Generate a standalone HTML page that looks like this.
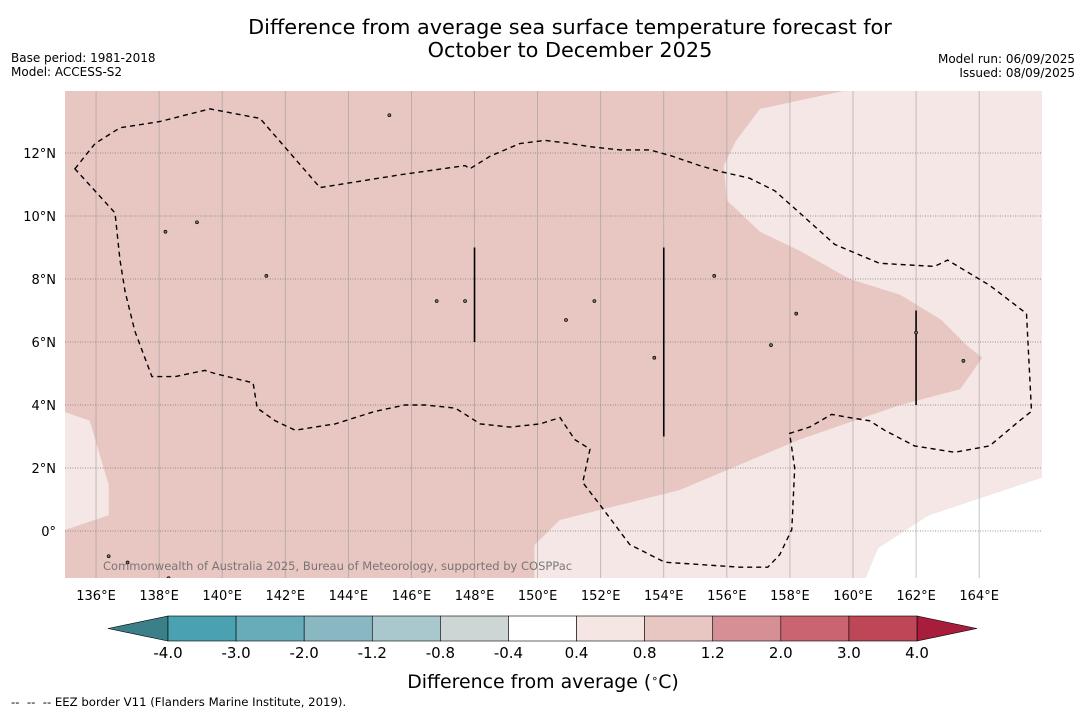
<!DOCTYPE html>
<html><head><meta charset="utf-8">
<style>
body{margin:0;background:#fff;width:1085px;height:713px;overflow:hidden;font-family:"Liberation Sans","DejaVu Sans",sans-serif;}
svg text{font-family:"DejaVu Sans","Liberation Sans",sans-serif;}
</style></head>
<body>
<svg id="chart" width="1085" height="713" viewBox="0 0 1085 713">
<text x="570" y="34" font-size="20.8" text-anchor="middle">Difference from average sea surface temperature forecast for</text>
<text x="570" y="57" font-size="20.8" text-anchor="middle">October to December 2025</text>
<text x="11" y="62" font-size="12">Base period: 1981-2018</text>
<text x="11" y="76" font-size="12">Model: ACCESS-S2</text>
<text x="1075" y="63" font-size="12" text-anchor="end">Model run: 06/09/2025</text>
<text x="1075" y="77" font-size="12" text-anchor="end">Issued: 08/09/2025</text>
<defs><clipPath id="mapclip"><rect x="65" y="91" width="977" height="487"/></clipPath></defs>
<g id="map" clip-path="url(#mapclip)"></g>
<g id="axes"></g>
<g id="cbar"></g>
<text x="543" y="688" font-size="18.9" text-anchor="middle">Difference from average (<tspan baseline-shift="super" font-size="11">∘</tspan>C)</text>
<text x="11" y="706" font-size="11.7" xml:space="preserve">--  --  -- EEZ border V11 (Flanders Marine Institute, 2019).</text>
</svg>
<script>
const lonTicks=[136,138,140,142,144,146,148,150,152,154,156,158,160,162,164];
const latTicks=[0,2,4,6,8,10,12];
const cbarLevels=["-4.0","-3.0","-2.0","-1.2","-0.8","-0.4","0.4","0.8","1.2","2.0","3.0","4.0"];
const cbarColors=["#4aa1b0","#68abb9","#89b8c3","#a9c8cd","#ced5d5","#ffffff","#f5e6e4","#e8c6c2","#d68f95","#c96470","#bd4657"];
const lightLon=[159.84,157.05,156.3,155.9,156.0,157.05,158.3,159.9,161.5,162.8,163.6,164.1,163.4,161.5,158.3,154.5,150.7,149.9,149.9,160.4,160.8,162.4,166,166];
const lightLat=[14,13.4,12.4,11.6,10.5,9.5,8.9,8.0,7.5,6.7,5.9,5.5,4.5,4.0,2.9,1.3,0.35,-0.45,-1.5,-1.5,-0.54,0.5,1.7,14];
const whiteLon=[160.4,160.8,162.4,166,166];
const whiteLat=[-1.5,-0.54,0.5,1.7,-1.5];
const westLon=[135,135.8,136.4,136.4,135];
const westLat=[3.78,3.5,1.46,0.5,0.03];
const eezLon=[135.33,135.97,136.76,138.03,139.61,141.2,143.1,145.6,147.7,147.85,148.5,149.44,150.24,151.03,151.66,152.61,153.56,154.26,155.14,155.84,156.72,157.52,158.31,159.42,160.84,162.59,163.0,164.33,165.5,165.66,165.28,164.33,163.22,161.95,161.0,160.53,159.89,159.32,158.62,157.99,158.15,158.06,157.68,157.3,156.41,154.03,152.92,151.97,151.43,151.66,151.18,150.71,150.08,149.13,148.18,147.39,146.44,145.8,144.85,143.58,142.31,141.68,141.11,140.98,139.77,139.45,138.5,137.77,137.23,136.92,136.76,136.6,135.33];
const eezLat=[11.5,12.3,12.8,13.0,13.4,13.1,10.9,11.3,11.6,11.5,11.9,12.3,12.4,12.3,12.2,12.1,12.1,11.9,11.6,11.4,11.2,10.8,10.1,9.1,8.5,8.4,8.6,7.8,6.9,3.8,3.5,2.7,2.5,2.7,3.2,3.5,3.6,3.7,3.3,3.1,2.0,0.05,-0.75,-1.15,-1.15,-0.99,-0.43,0.84,1.54,2.6,2.9,3.6,3.4,3.3,3.4,3.9,4.0,4.0,3.8,3.4,3.2,3.5,3.9,4.7,5.0,5.1,4.9,4.9,6.35,7.6,8.6,10.1,11.5];
const tickLon=[148,154,162];
const tickLat1=[9,9,7];
const tickLat0=[6,3,4];
const islandLon=[136.4,137.0,138.2,141.4,145.3,146.8,147.7,151.8,153.7,155.6,157.4,158.2,162.0,163.5,150.9,138.3,139.2];
const islandLat=[-0.8,-1.0,9.5,8.1,13.2,7.3,7.3,7.3,5.5,8.1,5.9,6.9,6.3,5.4,6.7,-1.5,9.8];

const X=lon=>64.5+(lon-135)*31.54, Y=lat=>531-lat*31.5;
const NS="http://www.w3.org/2000/svg";
function mk(tag,attrs,parent){const e=document.createElementNS(NS,tag);for(const k in attrs)e.setAttribute(k,attrs[k]);parent.appendChild(e);return e;}
function pts(lo,la){return lo.map((v,i)=>X(v).toFixed(1)+","+Y(la[i]).toFixed(1)).join(" ");}
const map=document.getElementById('map');
let r=mk('rect',{x:65,y:91,width:977,height:487,fill:'#e8c7c3'},map);


let p=mk('polygon',{points:pts(lightLon,lightLat),fill:'#f5e7e5'},map);


p=mk('polygon',{points:pts(whiteLon,whiteLat),fill:'#ffffff'},map);


p=mk('polygon',{points:pts(westLon,westLat),fill:'#f5e7e5'},map);


lonTicks.forEach(l=>{const g=mk('line',{x1:X(l),x2:X(l),y1:91,y2:578,stroke:'#999',"stroke-width":0.8,"stroke-opacity":0.7},map);

});
latTicks.forEach(l=>{const g=mk('line',{x1:65,x2:1042,y1:Y(l),y2:Y(l),stroke:'#777',"stroke-width":0.8,"stroke-dasharray":"1,1.5"},map);

});
p=mk('polygon',{points:pts(eezLon,eezLat),fill:'none',stroke:'#000',"stroke-width":1.4,"stroke-dasharray":"5,4"},map);


tickLon.forEach((l,i)=>{const g=mk('line',{x1:X(l),x2:X(l),y1:Y(tickLat1[i]),y2:Y(tickLat0[i]),stroke:'#000',"stroke-width":1.6},map);

});
islandLon.forEach((l,i)=>{const g=mk('circle',{cx:X(l),cy:Y(islandLat[i]),r:1.5,fill:'#777',stroke:'#000',"stroke-width":0.7},map);

});
let t=mk('text',{x:103,y:570,"font-size":11.5,fill:'#666',"fill-opacity":0.85},map);
t.textContent="Commonwealth of Australia 2025, Bureau of Meteorology, supported by COSPPac";



const ax=document.getElementById('axes');
lonTicks.forEach(l=>{const e=mk('text',{x:X(l),y:600,"font-size":13,"text-anchor":"middle"},ax);e.textContent=l+"°E";

});
latTicks.forEach(l=>{const e=mk('text',{x:56,y:Y(l)+5,"font-size":13,"text-anchor":"end"},ax);e.textContent=l===0?"0°":l+"°N";

});

const cb=document.getElementById('cbar');
const bx0=168,bx1=917,by0=616,by1=641,bw=(bx1-bx0)/cbarColors.length;
p=mk('polygon',{points:`108,628.5 ${bx0},${by0} ${bx0},${by1}`,fill:'#3b7f88',stroke:'#000',"stroke-width":0.6},cb);


p=mk('polygon',{points:`977,628.5 ${bx1},${by0} ${bx1},${by1}`,fill:'#a71d3b',stroke:'#000',"stroke-width":0.6},cb);


cbarColors.forEach((c,i)=>{const e=mk('rect',{x:bx0+i*bw,y:by0,width:bw,height:by1-by0,fill:c,stroke:'#000',"stroke-width":0.6},cb);

});
cbarLevels.forEach((s,i)=>{const e=mk('text',{x:bx0+i*bw,y:658,"font-size":15,"text-anchor":"middle"},cb);e.textContent=s;

});
</script>
</body></html>
